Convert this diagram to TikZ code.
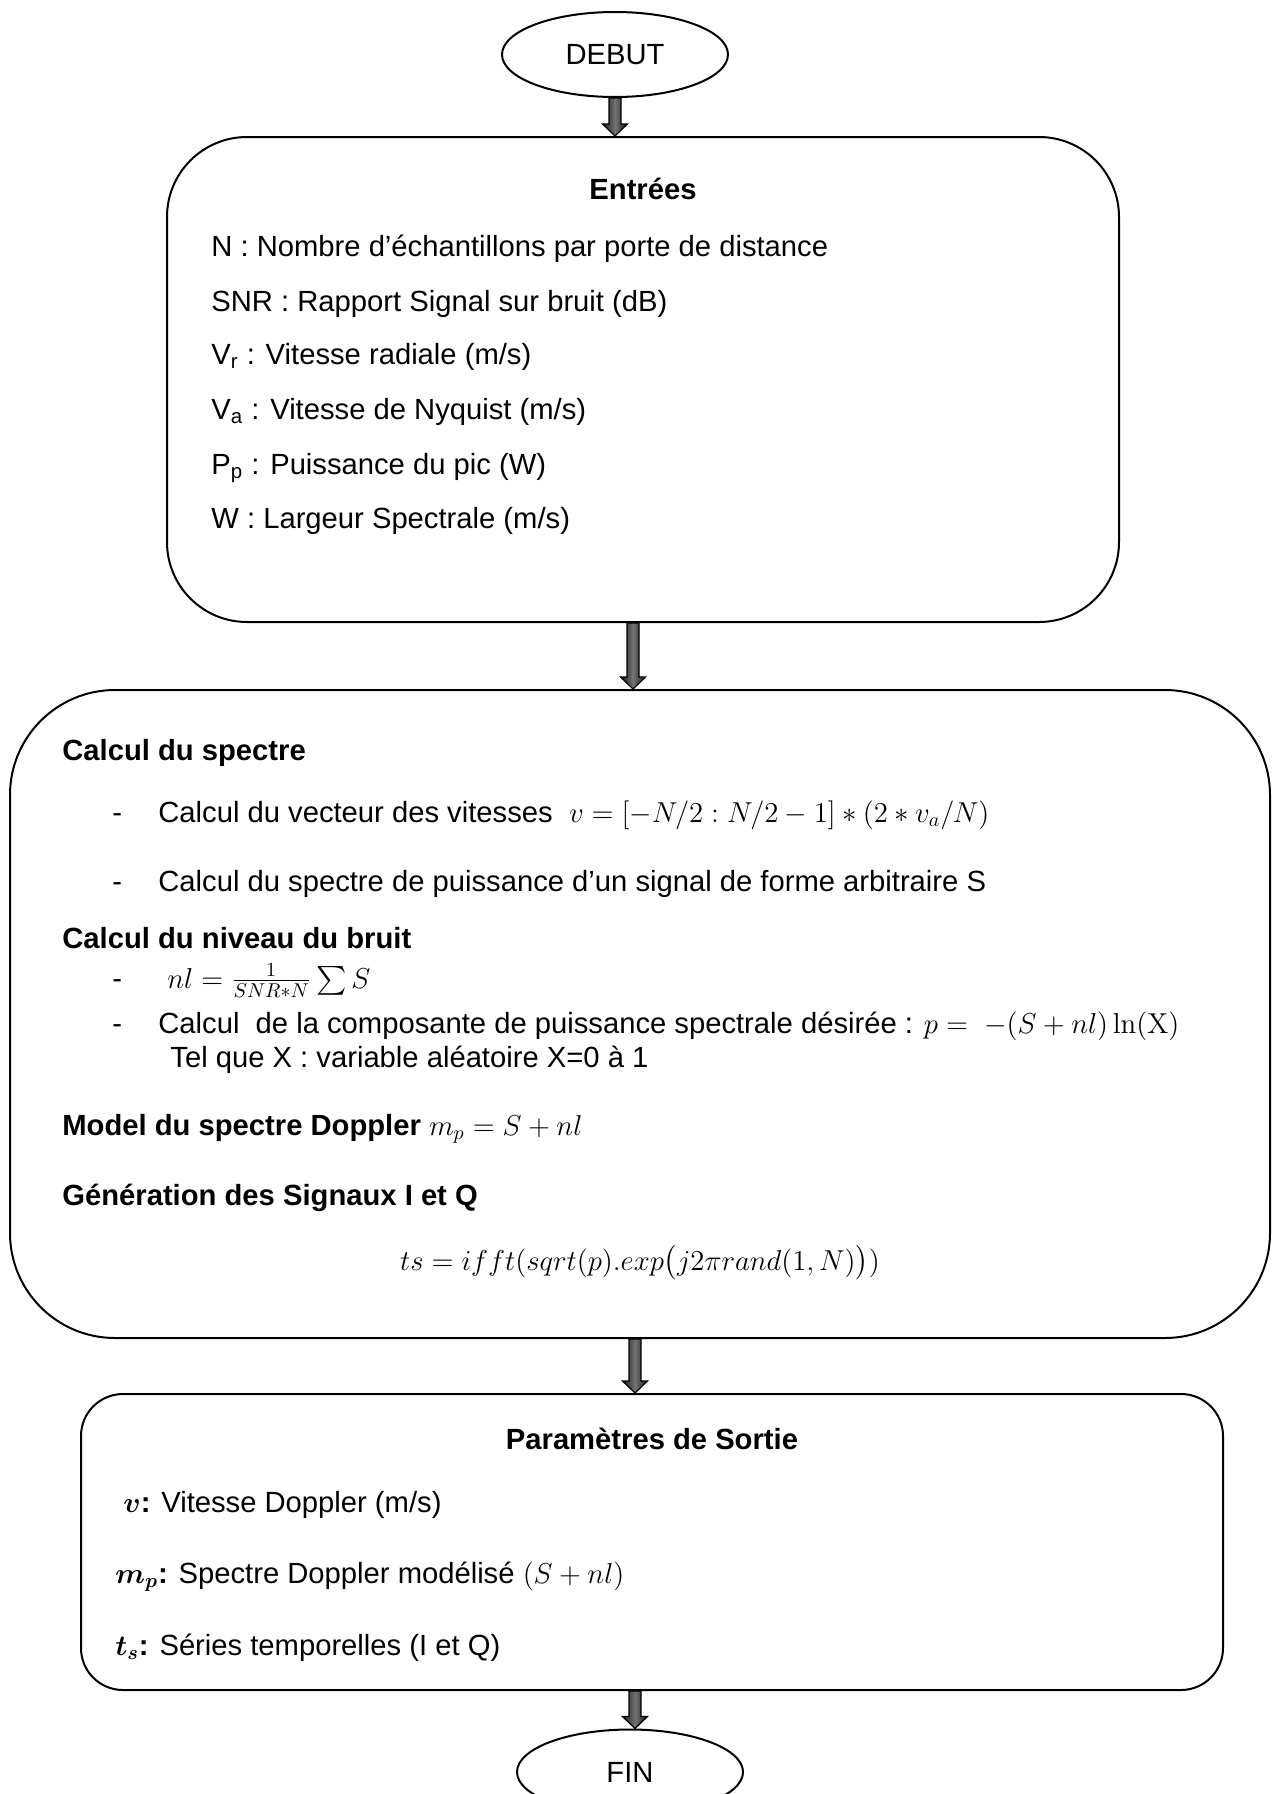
\documentclass[tikz,border=0pt]{standalone}
\usepackage{amsmath}
\usepackage{bm}
\usepackage[no-math]{fontspec}
\setmainfont{Liberation Sans}
\usetikzlibrary{shapes.geometric,calc}
\newcommand{\blockarrow}[2]{%
  \path[arrfill] ($(#1)+(-6,0)$) -- ($(#2)+(-6,-12)$) -- ($(#2)+(-12.5,-12)$) -- (#2) -- ($(#2)+(12.5,-12)$) -- ($(#2)+(6,-12)$) -- ($(#1)+(6,0)$) -- cycle;}
\begin{document}
\begin{tikzpicture}[x=0.5pt,y=-0.5pt,
  font=\fontsize{14.6pt}{17.5pt}\selectfont,
  box/.style={draw, line width=1pt, inner sep=0pt},
  oval/.style={draw, ellipse, line width=1pt, minimum width=113pt, minimum height=42.5pt, inner sep=0pt},
  txt/.style={anchor=base west, inner sep=0pt},
  ctxt/.style={anchor=base, inner sep=0pt},
  arrfill/.style={left color=black!90, right color=black!90, middle color=black!55, draw=black, line width=0.6pt}]
\useasboundingbox (0,0) rectangle (1280,1794);

% terminals and boxes
\node[oval] (debut) at (615,54.5) {DEBUT};
\node[box, rounded corners=40pt, minimum width=476pt, minimum height=242.5pt] (b1) at (643,379.5) {};
\node[box, rounded corners=52.5pt, minimum width=630pt, minimum height=324pt] (b2) at (640,1014) {};
\node[box, rounded corners=21pt, minimum width=571pt, minimum height=148pt] (b3) at (652,1542) {};
\node[oval] (fin) at (630,1772) {FIN};

% connectors
\coordinate (a1e) at (debut.south |- b1.north);
\coordinate (a2s) at ([xshift=-5pt]b1.south);
\coordinate (a2e) at (a2s |- b2.north);
\coordinate (a3s) at ([xshift=-2.5pt]b2.south);
\coordinate (a3e) at (a3s |- b3.north);
\coordinate (a4s) at ([xshift=-8.5pt]b3.south);
\coordinate (a4e) at (a4s |- fin.north);
\blockarrow{debut.south}{a1e}
\blockarrow{a2s}{a2e}
\blockarrow{a3s}{a3e}
\blockarrow{a4s}{a4e}

% box 1 text
\node[ctxt] (t1) at (643,199) {\textbf{Entrées}};
\node[txt] (t2) at (211,256) {N : Nombre d’échantillons par porte de distance};
\node[txt] (t3) at (211,311) {SNR : Rapport Signal sur bruit (dB)};
\node[txt] (t4) at (211,364) {V\textsubscript{r} : Vitesse radiale (m/s)};
\node[txt] (t5) at (211,419) {V\textsubscript{a} : Vitesse de Nyquist (m/s)};
\node[txt] (t6) at (211,474) {P\textsubscript{p} : Puissance du pic (W)};
\node[txt] (t7) at (211,528) {W : Largeur Spectrale (m/s)};

% box 2 text
\node[txt] (s1) at (62,760) {\textbf{Calcul du spectre}};
\node[txt] (d1) at (112,822) {-};
\node[txt] (s2) at (158,822) {Calcul du vecteur des vitesses\ \ $v=[-N/2:N/2-1]*(2*v_a/N)$};
\node[txt] (d2) at (112,891) {-};
\node[txt] (s3) at (158,891) {Calcul du spectre de puissance d’un signal de forme arbitraire S};
\node[txt] (s4) at (62,948) {\textbf{Calcul du niveau du bruit}};
\node[txt] (d3) at (112,988) {-};
\node[txt] (s5) at (167,988) {$nl=\frac{1}{SNR*N}\sum S$};
\node[txt] (d4) at (112,1033) {-};
\node[txt] (s6) at (158,1033) {Calcul\ \ de la composante de puissance spectrale désirée : $p=\ -(S+nl)\ln(\mathrm{X})$};
\node[txt] (s7) at (170,1067) {Tel que X : variable aléatoire X=0 à 1};
\node[txt] (s8) at (62,1135) {\textbf{Model du spectre Doppler} $m_p=S+nl$};
\node[txt] (s9) at (62,1205) {\textbf{Génération des Signaux I et Q}};
\node[ctxt] (s10) at (640,1270) {$ts=ifft(sqrt(p).exp\bigl(j2\pi rand(1,N)\bigr))$};

% box 3 text
\node[ctxt] (p1) at (652,1449) {\textbf{Paramètres de Sortie}};
\node[txt] (p2) at (123,1512) {$\bm{v}$\textbf{:} Vitesse Doppler (m/s)};
\node[txt] (p3) at (115,1583) {$\bm{m_p}$\textbf{:} Spectre Doppler modélisé $(S+nl)$};
\node[txt] (p4) at (115,1655) {$\bm{t_s}$\textbf{:} Séries temporelles (I et Q)};
\end{tikzpicture}
\end{document}
